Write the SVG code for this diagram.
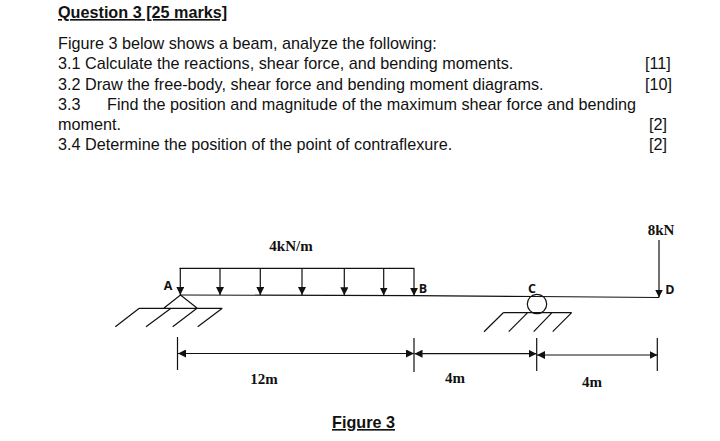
<svg xmlns="http://www.w3.org/2000/svg" width="720" height="441" viewBox="0 0 720 441">
<style>
text{font-family:"Liberation Sans",Arial,sans-serif;fill:#111}
.b{font-size:16.2px}
.h{font-size:16.2px;font-weight:bold;text-decoration:underline}
.s{font-family:"Liberation Serif","Times New Roman",serif;font-weight:bold;font-size:15px;text-anchor:middle}
.l{font-family:"Open Sans",sans-serif;font-weight:bold;font-size:12.5px;text-anchor:middle}
.ln{fill:none;stroke:#111;stroke-width:1.2}
</style>
<defs>
<marker id="down" markerUnits="userSpaceOnUse" markerWidth="8" markerHeight="8" refX="4" refY="8" orient="0" viewBox="0 0 8 8"><path d="M0 0H8L4 8Z" fill="#111"/></marker>
<marker id="dl" markerUnits="userSpaceOnUse" markerWidth="8" markerHeight="8" refX="0" refY="4" orient="0" viewBox="0 0 8 8"><path d="M0 4L8 0V8Z" fill="#111"/></marker>
<marker id="dr" markerUnits="userSpaceOnUse" markerWidth="8" markerHeight="8" refX="8" refY="4" orient="0" viewBox="0 0 8 8"><path d="M8 4L0 0V8Z" fill="#111"/></marker>
</defs>
<g id="question-text">
<text class="h" x="58" y="18">Question 3 [25 marks]</text>
<text class="b" x="58" y="49">Figure 3 below shows a beam, analyze the following:</text>
<text class="b" x="58" y="69">3.1 Calculate the reactions, shear force, and bending moments.</text>
<text class="b" x="645" y="69">[11]</text>
<text class="b" x="58" y="90">3.2 Draw the free-body, shear force and bending moment diagrams.</text>
<text class="b" x="645" y="90">[10]</text>
<text class="b" x="58" y="110">3.3</text>
<text class="b" x="107" y="110">Find the position and magnitude of the maximum shear force and bending</text>
<text class="b" x="58" y="130">moment.</text>
<text class="b" x="649" y="130">[2]</text>
<text class="b" x="58" y="150">3.4 Determine the position of the point of contraflexure.</text>
<text class="b" x="649" y="150">[2]</text>
</g>
<g id="connectors">
<path class="ln" d="M180 295L414 295.7L535 296.5L659 297.5"/>
<path class="ln" d="M179.5 268.3H414.3"/>
<g marker-end="url(#down)">
<path class="ln" d="M180.3 268.3V295"/>
<path class="ln" d="M220 268.3V295"/>
<path class="ln" d="M260.3 268.3V295"/>
<path class="ln" d="M302 268.3V295"/>
<path class="ln" d="M344.3 268.3V295.3"/>
<path class="ln" d="M383.7 268.3V295.5"/>
<path class="ln" d="M414 268.3V295.7"/>
<path class="ln" d="M659 240V297.5"/>
</g>
<path class="ln" d="M177.5 337V370M414 338V372M536.7 338V371M657.3 338V371"/>
<path class="ln" d="M178 353.5H414" marker-start="url(#dl)" marker-end="url(#dr)"/>
<path class="ln" d="M414.5 353.7H536.5" marker-start="url(#dl)" marker-end="url(#dr)"/>
<path class="ln" d="M537 355H657.5" marker-start="url(#dl)" marker-end="url(#dr)"/>
</g>
<g id="support-A">
<path class="ln" d="M164 308L180.5 295L197 308M139.3 308.3H222.3M139.3 308.3L115.3 326.7M171 308.3L146 326.7M197 308.3L172.7 326.7M222.3 308.3L197.7 326.7"/>
</g>
<g id="support-C">
<circle class="ln" cx="537" cy="304" r="9.7"/>
<path class="ln" d="M503.3 312.7H571.7M503.3 312.7L484 331.7M527.7 312.7L508.7 331.7M552 312.7L533.7 331.7M571.7 312.7L552.7 331.7"/>
</g>
<g id="labels">
<text class="s" x="291" y="251">4kN/m</text>
<text class="s" x="661" y="235">8kN</text>
<text class="s" x="264" y="384">12m</text>
<text class="s" x="455" y="383">4m</text>
<text class="s" x="592" y="387">4m</text>
<text class="l" x="168" y="290">A</text>
<text class="l" x="423" y="293">B</text>
<text class="l" x="532" y="293">C</text>
<text class="l" x="670" y="294">D</text>
</g>
<text class="h" x="332" y="428">Figure 3</text>
</svg>
